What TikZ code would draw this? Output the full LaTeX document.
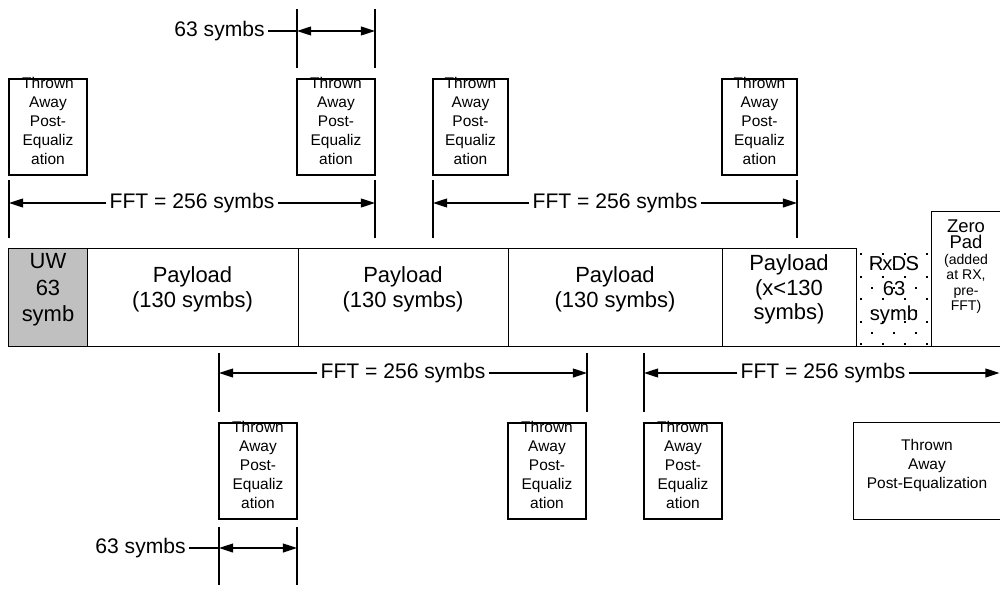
\documentclass[tikz,border=0pt]{standalone}
\usepackage{fontspec}
\setmainfont{Liberation Sans}
\usetikzlibrary{arrows.meta,fit}
\definecolor{uwgray}{RGB}{192,192,192}
\begin{document}
\begin{tikzpicture}[x=0.02cm,y=-0.02cm,
  line width=0.8pt,
  cell/.style={inner sep=0pt, align=center, font=\fontsize{12.5}{14}\selectfont},
  tbox/.style={draw, inner sep=0pt, align=center, font=\fontsize{8.8}{10.8}\selectfont},
  dimlabel/.style={font=\fontsize{12}{14}\selectfont, inner sep=1.5pt},
  tickline/.style={line width=0.9pt},
  tip/.tip={Triangle[length=8pt,width=5pt]},
  arr/.style={-tip},
  twoarr/.style={tip-tip},
]
\useasboundingbox (0,0) rectangle (1000,588);

% ---------- frame row ----------
% dotted fill of the RxDS slot
\foreach \r in {0,...,8}{
  \pgfmathsetmacro\yy{253+\r*11.3}
  \pgfmathsetmacro\xo{860+mod(\r,2)*11}
  \foreach \c in {0,...,3}{
    \pgfmathsetmacro\xx{\xo+\c*22}
    \ifdim\xx pt<930pt \fill (\xx,\yy) rectangle ++(2,2); \fi
  }
}
\node[cell, fill=uwgray, fit={(9,249) (87,346)}, font=\fontsize{12.5}{15}\selectfont] (uw) {UW\\63\\symb};
\node[cell, fit={(87,249) (298,346)}] (p1) {Payload\\(130 symbs)};
\node[cell, fit={(298,249) (508,346)}] (p2) {Payload\\(130 symbs)};
\node[cell, fit={(508,249) (722,346)}] (p3) {Payload\\(130 symbs)};
\node[cell, fit={(722,249) (856,346)}] (p4) {Payload\\(x<130\\symbs)};
\node[cell, fit={(856,249) (932,346)}, font=\fontsize{11.5}{14}\selectfont] (rx) {R\kern-0.6pt x\kern-0.6pt D\kern-0.3pt S\\63\\symb};
\node[inner sep=0pt, fit={(932,212) (1000,346)}] (zp) {};
\node[align=center, anchor=north, inner sep=0pt, font=\fontsize{8}{8.8}\selectfont] (zpl) at (966,219)
  {{\fontsize{10.5}{8.8}\selectfont Zero}\\[0.6pt]{\fontsize{10.5}{8.8}\selectfont Pad}\\(added\\at RX,\\pre-\\FFT)};

\draw (uw.north west) -- (p4.north east);
\draw (uw.south west) -- (zp.south east);
\draw (uw.north west) -- (uw.south west);
\foreach \n in {uw,p1,p2,p3,p4}{\draw (\n.north east) -- (\n.south east);}
\draw (zp.south west) -- (zp.north west) -- (zp.north east);

% ---------- discarded segments above ----------
\node[tbox, fit={(9,79) (87,175)}] (ta1) {Thrown\\Away\\Post-\\Equaliz\\ation};
\node[tbox, fit={(297,79) (375,175)}] (ta2) {Thrown\\Away\\Post-\\Equaliz\\ation};
\node[tbox, fit={(433,79) (508,175)}] (ta3) {Thrown\\Away\\Post-\\Equaliz\\ation};
\node[tbox, fit={(722,79) (797,175)}] (ta4) {Thrown\\Away\\Post-\\Equaliz\\ation};

% ---------- discarded segments below ----------
\node[tbox, fit={(219,423) (297,519)}] (tb1) {Thrown\\Away\\Post-\\Equaliz\\ation};
\node[tbox, fit={(508,423) (586,519)}] (tb2) {Thrown\\Away\\Post-\\Equaliz\\ation};
\node[tbox, fit={(644,423) (722,519)}] (tb3) {Thrown\\Away\\Post-\\Equaliz\\ation};
\node[tbox, draw=none, fit={(854,423) (1000,519)}] (tb4) {Thrown\\Away\\Post-Equalization};
\draw (tb4.north east) -- (tb4.north west) -- (tb4.south west) -- (tb4.south east);

% ---------- top: 63-symbol overlap ----------
\coordinate (o1) at (297,9);  \coordinate (o1b) at (297,68);
\coordinate (o2) at (375,9);  \coordinate (o2b) at (375,68);
\draw[tickline] (o1) -- (o1b);
\draw[tickline] (o2) -- (o2b);
\node[dimlabel, anchor=east] (s1) at (268,31) {63 symbs};
\draw (s1.east) -- (s1.east -| o1);
\draw[twoarr] (s1.east -| o1) -- (s1.east -| o2);

% ---------- top FFT windows ----------
\coordinate (w1) at (9,180);   \coordinate (w1b) at (9,238);
\coordinate (w2) at (375,180); \coordinate (w2b) at (375,238);
\coordinate (w3) at (433,180); \coordinate (w3b) at (433,238);
\coordinate (w4) at (797,180); \coordinate (w4b) at (797,238);
\foreach \a/\b in {w1/w1b,w2/w2b,w3/w3b,w4/w4b}{\draw[tickline] (\a) -- (\b);}
\node[dimlabel] (f1) at (192,203) {FFT = 256 symbs};
\draw[arr] (f1.west) -- (f1.west -| w1);
\draw[arr] (f1.east) -- (f1.east -| w2);
\node[dimlabel] (f2) at (615,203) {FFT = 256 symbs};
\draw[arr] (f2.west) -- (f2.west -| w3);
\draw[arr] (f2.east) -- (f2.east -| w4);

% ---------- bottom FFT windows ----------
\coordinate (v1) at (219,353); \coordinate (v1b) at (219,412);
\coordinate (v2) at (587,353); \coordinate (v2b) at (587,412);
\coordinate (v3) at (644,353); \coordinate (v3b) at (644,412);
\coordinate (v4) at (999.5,373);
\foreach \a/\b in {v1/v1b,v2/v2b,v3/v3b}{\draw[tickline] (\a) -- (\b);}
\node[dimlabel] (f3) at (403,373) {FFT = 256 symbs};
\draw[arr] (f3.west) -- (f3.west -| v1);
\draw[arr] (f3.east) -- (f3.east -| v2);
\node[dimlabel] (f4) at (823,373) {FFT = 256 symbs};
\draw[arr] (f4.west) -- (f4.west -| v3);
\draw[arr] (f4.east) -- (v4);

% ---------- bottom: 63-symbol overlap ----------
\coordinate (u1) at (219,527); \coordinate (u1b) at (219,585);
\coordinate (u2) at (297,527); \coordinate (u2b) at (297,585);
\draw[tickline] (u1) -- (u1b);
\draw[tickline] (u2) -- (u2b);
\node[dimlabel, anchor=east] (s2) at (189,548) {63 symbs};
\draw (s2.east) -- (s2.east -| u1);
\draw[twoarr] (s2.east -| u1) -- (s2.east -| u2);
\end{tikzpicture}
\end{document}
